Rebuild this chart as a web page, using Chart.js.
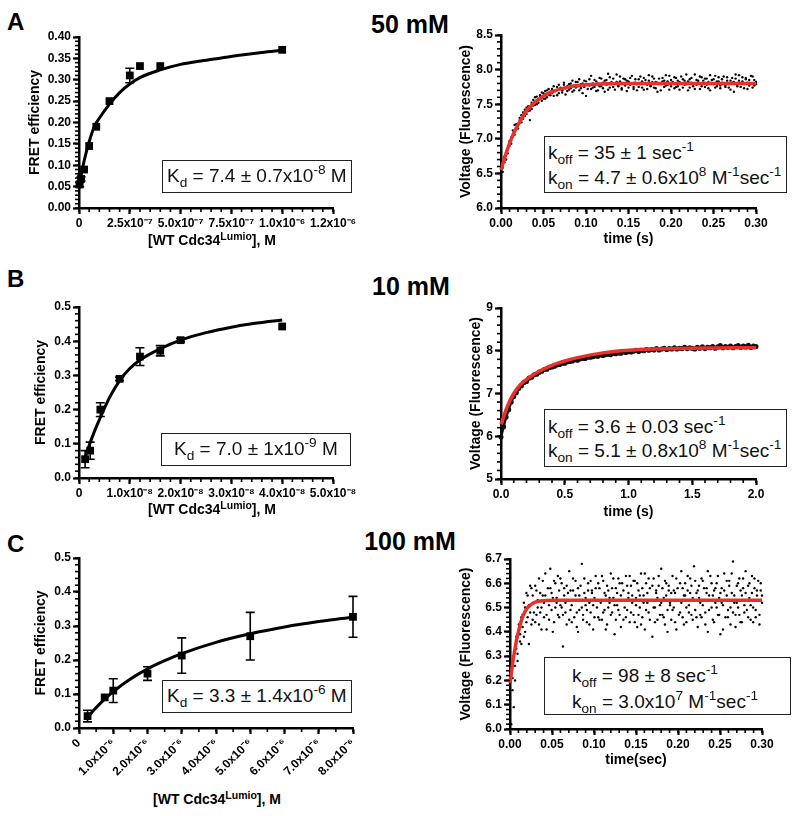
<!DOCTYPE html>
<html>
<head>
<meta charset="utf-8">
<script src="https://cdn.jsdelivr.net/npm/chart.js@4.4.1/dist/chart.umd.min.js"></script>
<style>
  html, body { margin: 0; padding: 0; background: #fff; }
  body { width: 800px; height: 816px; position: relative; overflow: hidden; font-family: 'Liberation Sans', Arial, sans-serif; color: #000; }
  canvas { position: absolute; }
  .lbl { position: absolute; font-weight: bold; white-space: nowrap; }
  .panel { font-size: 24px; line-height: 24px; }
  .cond { font-size: 25px; line-height: 25px; transform: translateX(-50%); }
  .xt { font-size: 14px; line-height: 14px; transform: translateX(-50%); }
  .xt sup { font-size: 75%; top: -0.5em; }
  .box { position: absolute; box-sizing: border-box; border: 1.5px solid #222; background: #fff; font-size: 19px; color: #111; white-space: nowrap; z-index: 5; }
  .box .ln { position: absolute; line-height: 19px; }
  sub, sup { font-size: 72%; line-height: 0; position: relative; vertical-align: baseline; }
  sub { top: 0.38em; }
  sup { top: -0.55em; }
</style>
</head>
<body>
<div class="lbl panel" style="left:7px;top:10px">A</div>
<div class="lbl cond" style="left:410px;top:12px">50 mM</div>
<div class="lbl panel" style="left:7px;top:267px">B</div>
<div class="lbl cond" style="left:411px;top:274px">10 mM</div>
<div class="lbl panel" style="left:7px;top:532px">C</div>
<div class="lbl cond" style="left:410px;top:529px">100 mM</div>

<canvas id="bindA"></canvas>
<canvas id="kinA"></canvas>
<canvas id="bindB"></canvas>
<canvas id="kinB"></canvas>
<canvas id="bindC"></canvas>
<canvas id="kinC"></canvas>

<div class="lbl xt" style="left:212px;top:233px">[WT Cdc34<sup>Lumio</sup>], M</div>
<div class="lbl xt" style="left:212px;top:502px">[WT Cdc34<sup>Lumio</sup>], M</div>
<div class="lbl xt" style="left:217px;top:792px">[WT Cdc34<sup>Lumio</sup>], M</div>

<div class="box" style="left:162px;top:160px;width:190px;height:33px">
  <div class="ln" style="left:4px;top:5px">K<sub>d</sub> = 7.4 ± 0.7x10<sup>-8</sup> M</div>
</div>
<div class="box" style="left:161px;top:433px;width:190px;height:33px">
  <div class="ln" style="left:12px;top:5px">K<sub>d</sub> = 7.0 ± 1x10<sup>-9</sup> M</div>
</div>
<div class="box" style="left:162px;top:680px;width:190px;height:33px">
  <div class="ln" style="left:4px;top:5px">K<sub>d</sub> = 3.3 ± 1.4x10<sup>-6</sup> M</div>
</div>
<div class="box" style="left:544px;top:136px;width:243px;height:57px">
  <div class="ln" style="left:3px;top:6px">k<sub>off</sub> = 35 ± 1 sec<sup>-1</sup></div>
  <div class="ln" style="left:3px;top:31px">k<sub>on</sub> = 4.7 ± 0.6x10<sup>8</sup> M<sup>-1</sup>sec<sup>-1</sup></div>
</div>
<div class="box" style="left:544px;top:409px;width:243px;height:58px">
  <div class="ln" style="left:3px;top:7px">k<sub>off</sub> = 3.6 ± 0.03 sec<sup>-1</sup></div>
  <div class="ln" style="left:3px;top:31px">k<sub>on</sub> = 5.1 ± 0.8x10<sup>8</sup> M<sup>-1</sup>sec<sup>-1</sup></div>
</div>
<div class="box" style="left:544px;top:657px;width:247px;height:58px">
  <div class="ln" style="left:27px;top:8px">k<sub>off</sub> = 98 ± 8 sec<sup>-1</sup></div>
  <div class="ln" style="left:27px;top:34px">k<sub>on</sub> = 3.0x10<sup>7</sup> M<sup>-1</sup>sec<sup>-1</sup></div>
</div>

<script>
const FONT = "'Liberation Sans', Arial, sans-serif";
const RED = '#e8312a';

// ---- A: 50 mM binding ----
const concA = [3e-9, 1e-8, 2.5e-8, 5e-8, 8.5e-8, 1.5e-7, 2.5e-7, 3e-7, 4e-7, 1e-6];
const fretA = [0.055, 0.068, 0.09, 0.145, 0.19, 0.25, 0.31, 0.332, 0.332, 0.37];
const errA = [0.005, 0.005, 0, 0, 0, 0, 0.017, 0, 0, 0];
const fitConcA = [0, 1e-8, 2.5e-8, 5e-8, 7.5e-8, 1e-7, 1.5e-7, 2e-7, 2.5e-7, 3e-7, 4e-7, 5e-7, 6e-7, 7e-7, 8e-7, 9e-7, 1e-6];
const fitFretA = [0.045, 0.075, 0.11, 0.155, 0.19, 0.21, 0.243, 0.27, 0.29, 0.305, 0.323, 0.336, 0.344, 0.351, 0.358, 0.364, 0.369];
const xTicksA = [0, 2.5e-7, 5e-7, 7.5e-7, 1e-6, 1.25e-6];
const xLabelsA = ['0', '2.5x10⁻⁷', '5.0x10⁻⁷', '7.5x10⁻⁷', '1.0x10⁻⁶', '1.2x10⁻⁶'];
const yTicksA = [0, 0.05, 0.1, 0.15, 0.2, 0.25, 0.3, 0.35, 0.4];
const yLabelsA = ['0.00', '0.05', '0.10', '0.15', '0.20', '0.25', '0.30', '0.35', '0.40'];

// ---- A: 50 mM stopped-flow (two sweeps on the same time base) ----
const timeA = [0,0.002,0.004,0.006,0.008,0.01,0.012,0.014,0.016,0.018,
  0.02,0.022,0.024,0.026,0.028,0.03,0.032,0.034,0.036,0.038,
  0.04,0.042,0.044,0.046,0.048,0.05,0.052,0.054,0.056,0.058,
  0.06,0.062,0.064,0.066,0.068,0.07,0.072,0.074,0.076,0.078,
  0.08,0.082,0.084,0.086,0.088,0.09,0.092,0.094,0.096,0.098,
  0.1,0.102,0.104,0.106,0.108,0.11,0.112,0.114,0.116,0.118,
  0.12,0.122,0.124,0.126,0.128,0.13,0.132,0.134,0.136,0.138,
  0.14,0.142,0.144,0.146,0.148,0.15,0.152,0.154,0.156,0.158,
  0.16,0.162,0.164,0.166,0.168,0.17,0.172,0.174,0.176,0.178,
  0.18,0.182,0.184,0.186,0.188,0.19,0.192,0.194,0.196,0.198,
  0.2,0.202,0.204,0.206,0.208,0.21,0.212,0.214,0.216,0.218,
  0.22,0.222,0.224,0.226,0.228,0.23,0.232,0.234,0.236,0.238,
  0.24,0.242,0.244,0.246,0.248,0.25,0.252,0.254,0.256,0.258,
  0.26,0.262,0.264,0.266,0.268,0.27,0.272,0.274,0.276,0.278,
  0.28,0.282,0.284,0.286,0.288,0.29,0.292,0.294,0.296,0.298,0.3];
const voltA = [6.38,6.52,6.66,6.70,6.86,6.90,7.02,7.05,7.20,7.14,
  7.22,7.30,7.24,7.38,7.33,7.45,7.40,7.27,7.52,7.48,
  7.60,7.50,7.57,7.63,7.55,7.66,7.58,7.70,7.64,7.68,
  7.72,7.62,7.69,7.75,7.66,7.74,7.70,7.78,7.64,7.76,
  7.71,7.80,7.68,7.77,7.74,7.82,7.70,7.79,7.66,7.84,
  7.62,7.78,7.86,7.72,7.80,7.75,7.83,7.70,7.88,7.76,
  7.81,7.68,7.85,7.94,7.74,7.79,7.87,7.71,7.82,7.77,
  7.90,7.73,7.80,7.86,7.69,7.83,7.78,7.91,7.75,7.81,
  7.70,7.86,7.79,7.74,7.88,7.80,7.72,7.84,7.77,7.90,
  7.74,7.82,7.68,7.87,7.79,7.83,7.75,7.92,7.78,7.71,
  7.85,7.80,7.73,7.88,7.76,7.82,7.90,7.74,7.84,7.79,
  7.70,7.86,7.81,7.76,7.93,7.78,7.84,7.72,7.89,7.80,
  7.75,7.87,7.82,7.70,7.85,7.79,7.91,7.76,7.83,7.73,
  7.86,7.80,7.77,7.89,7.74,7.84,7.81,7.68,7.87,7.78,
  7.92,7.75,7.83,7.79,7.88,7.72,7.85,7.80,7.90,7.77,7.82];
const voltA2 = [6.47,6.58,6.74,6.81,6.79,6.97,6.93,7.12,7.06,7.21,
  7.15,7.27,7.34,7.29,7.42,7.36,7.47,7.41,7.43,7.56,
  7.49,7.61,7.52,7.62,7.67,7.58,7.69,7.60,7.72,7.63,
  7.66,7.76,7.70,7.63,7.78,7.72,7.67,7.81,7.73,7.69,
  7.79,7.73,7.84,7.70,7.82,7.76,7.86,7.73,7.80,7.75,
  7.83,7.72,7.77,7.91,7.74,7.85,7.69,7.80,7.76,7.87,
  7.73,7.84,7.78,7.71,7.89,7.82,7.75,7.80,7.93,7.76,
  7.83,7.71,7.87,7.77,7.84,7.74,7.88,7.80,7.72,7.86,
  7.79,7.75,7.90,7.83,7.71,7.85,7.78,7.92,7.76,7.82,
  7.87,7.73,7.81,7.79,7.70,7.88,7.84,7.77,7.83,7.91,
  7.76,7.82,7.89,7.75,7.84,7.71,7.80,7.86,7.78,7.93,
  7.83,7.74,7.88,7.79,7.72,7.85,7.81,7.90,7.76,7.84,
  7.87,7.78,7.73,7.92,7.80,7.86,7.74,7.83,7.89,7.77,
  7.81,7.90,7.75,7.84,7.79,7.71,7.88,7.82,7.93,7.76,
  7.84,7.80,7.89,7.73,7.86,7.81,7.77,7.91,7.74,7.85,7.79];
const fitTimeA = [0, 0.005, 0.01, 0.015, 0.02, 0.03, 0.04, 0.05, 0.06, 0.08, 0.1, 0.15, 0.2, 0.25, 0.3];
const fitVoltA = [6.55, 6.75, 6.93, 7.08, 7.2, 7.4, 7.53, 7.62, 7.68, 7.75, 7.78, 7.8, 7.8, 7.8, 7.8];
const tTicksA = [0, 0.05, 0.1, 0.15, 0.2, 0.25, 0.3];
const tLabelsA = ['0.00', '0.05', '0.10', '0.15', '0.20', '0.25', '0.30'];
const vTicksA = [6, 6.5, 7, 7.5, 8, 8.5];
const vLabelsA = ['6.0', '6.5', '7.0', '7.5', '8.0', '8.5'];

// ---- B: 10 mM binding ----
const concB = [1.2e-9, 2.2e-9, 4.2e-9, 8e-9, 1.2e-8, 1.6e-8, 2e-8, 4e-8];
const fretB = [0.055, 0.08, 0.2, 0.29, 0.355, 0.372, 0.403, 0.443];
const errB = [0.025, 0.025, 0.02, 0.005, 0.026, 0.015, 0.005, 0];
const fitConcB = [1e-9, 2e-9, 3e-9, 4e-9, 6e-9, 8e-9, 1e-8, 1.2e-8, 1.6e-8, 2e-8, 2.5e-8, 3e-8, 3.5e-8, 4e-8];
const fitFretB = [0.05, 0.095, 0.135, 0.17, 0.235, 0.285, 0.32, 0.345, 0.378, 0.403, 0.425, 0.441, 0.453, 0.462];
const xTicksB = [0, 1e-8, 2e-8, 3e-8, 4e-8, 5e-8];
const xLabelsB = ['0', '1.0x10⁻⁸', '2.0x10⁻⁸', '3.0x10⁻⁸', '4.0x10⁻⁸', '5.0x10⁻⁸'];
const yTicksB = [0, 0.1, 0.2, 0.3, 0.4, 0.5];
const yLabelsB = ['0.0', '0.1', '0.2', '0.3', '0.4', '0.5'];

// ---- B: 10 mM stopped-flow ----
const timeB = [0,0.02,0.04,0.06,0.08,0.1,0.12,0.14,0.16,0.18,
  0.2,0.22,0.24,0.26,0.28,0.3,0.32,0.34,0.36,0.38,
  0.4,0.42,0.44,0.46,0.48,0.5,0.52,0.54,0.56,0.58,
  0.6,0.62,0.64,0.66,0.68,0.7,0.72,0.74,0.76,0.78,
  0.8,0.82,0.84,0.86,0.88,0.9,0.92,0.94,0.96,0.98,
  1,1.02,1.04,1.06,1.08,1.1,1.12,1.14,1.16,1.18,
  1.2,1.22,1.24,1.26,1.28,1.3,1.32,1.34,1.36,1.38,
  1.4,1.42,1.44,1.46,1.48,1.5,1.52,1.54,1.56,1.58,
  1.6,1.62,1.64,1.66,1.68,1.7,1.72,1.74,1.76,1.78,
  1.8,1.82,1.84,1.86,1.88,1.9,1.92,1.94,1.96,1.98,2];
const voltB = [5.98,6.22,6.45,6.62,6.80,6.93,7.02,7.12,7.18,7.26,
  7.28,7.36,7.38,7.44,7.45,7.50,7.52,7.56,7.57,7.61,
  7.62,7.64,7.67,7.68,7.71,7.71,7.74,7.75,7.76,7.79,
  7.78,7.81,7.82,7.82,7.85,7.85,7.86,7.88,7.87,7.90,
  7.89,7.91,7.92,7.91,7.94,7.93,7.95,7.94,7.97,7.96,
  7.98,7.97,7.99,8.01,7.98,8.01,8.00,8.03,8.01,8.03,
  8.02,8.05,8.02,8.04,8.06,8.03,8.05,8.04,8.07,8.04,
  8.06,8.05,8.08,8.05,8.07,8.06,8.04,8.08,8.06,8.09,
  8.05,8.08,8.07,8.10,8.06,8.09,8.12,8.07,8.10,8.08,
  8.11,8.07,8.10,8.12,8.08,8.11,8.09,8.13,8.08,8.11,8.10];
const fitTimeB = [0, 0.05, 0.1, 0.15, 0.2, 0.3, 0.4, 0.5, 0.6, 0.8, 1.0, 1.2, 1.5, 2.0];
const fitVoltB = [6.28, 6.7, 7.0, 7.2, 7.33, 7.52, 7.66, 7.76, 7.84, 7.95, 8.01, 8.04, 8.06, 8.07];
const tTicksB = [0, 0.5, 1, 1.5, 2];
const tLabelsB = ['0.0', '0.5', '1.0', '1.5', '2.0'];
const vTicksB = [5, 6, 7, 8, 9];
const vLabelsB = ['5', '6', '7', '8', '9'];

// ---- C: 100 mM binding ----
const concC = [0.25e-6, 0.75e-6, 1e-6, 2e-6, 3e-6, 5e-6, 8e-6];
const fretC = [0.035, 0.09, 0.11, 0.16, 0.213, 0.27, 0.327];
const errC = [0.017, 0, 0.035, 0.02, 0.052, 0.07, 0.06];
const fitConcC = [0.2e-6, 0.5e-6, 0.75e-6, 1e-6, 1.5e-6, 2e-6, 2.5e-6, 3e-6, 4e-6, 5e-6, 6e-6, 7e-6, 8e-6];
const fitFretC = [0.026, 0.06, 0.085, 0.107, 0.144, 0.174, 0.198, 0.219, 0.252, 0.277, 0.297, 0.313, 0.326];
const xTicksC = [0, 1e-6, 2e-6, 3e-6, 4e-6, 5e-6, 6e-6, 7e-6, 8e-6];
const xLabelsC = ['0', '1.0x10⁻⁶', '2.0x10⁻⁶', '3.0x10⁻⁶', '4.0x10⁻⁶', '5.0x10⁻⁶', '6.0x10⁻⁶', '7.0x10⁻⁶', '8.0x10⁻⁶'];
const yTicksC = [0, 0.1, 0.2, 0.3, 0.4, 0.5];
const yLabelsC = ['0.0', '0.1', '0.2', '0.3', '0.4', '0.5'];

// ---- C: 100 mM stopped-flow (two sweeps on the same time base) ----
const timeC = [0,0.0015,0.003,0.0045,0.006,0.0075,0.009,0.0105,0.012,0.0135,
  0.015,0.0165,0.018,0.0195,0.021,0.0225,0.024,0.0255,0.027,0.0285,
  0.03,0.0315,0.033,0.0345,0.036,0.0375,0.039,0.0405,0.042,0.0435,
  0.045,0.0465,0.048,0.0495,0.051,0.0525,0.054,0.0555,0.057,0.0585,
  0.06,0.0615,0.063,0.0645,0.066,0.0675,0.069,0.0705,0.072,0.0735,
  0.075,0.0765,0.078,0.0795,0.081,0.0825,0.084,0.0855,0.087,0.0885,
  0.09,0.0915,0.093,0.0945,0.096,0.0975,0.099,0.1005,0.102,0.1035,
  0.105,0.1065,0.108,0.1095,0.111,0.1125,0.114,0.1155,0.117,0.1185,
  0.12,0.1215,0.123,0.1245,0.126,0.1275,0.129,0.1305,0.132,0.1335,
  0.135,0.1365,0.138,0.1395,0.141,0.1425,0.144,0.1455,0.147,0.1485,
  0.15,0.1515,0.153,0.1545,0.156,0.1575,0.159,0.1605,0.162,0.1635,
  0.165,0.1665,0.168,0.1695,0.171,0.1725,0.174,0.1755,0.177,0.1785,
  0.18,0.1815,0.183,0.1845,0.186,0.1875,0.189,0.1905,0.192,0.1935,
  0.195,0.1965,0.198,0.1995,0.201,0.2025,0.204,0.2055,0.207,0.2085,
  0.21,0.2115,0.213,0.2145,0.216,0.2175,0.219,0.2205,0.222,0.2235,
  0.225,0.2265,0.228,0.2295,0.231,0.2325,0.234,0.2355,0.237,0.2385,
  0.24,0.2415,0.243,0.2445,0.246,0.2475,0.249,0.2505,0.252,0.2535,
  0.255,0.2565,0.258,0.2595,0.261,0.2625,0.264,0.2655,0.267,0.2685,
  0.27,0.2715,0.273,0.2745,0.276,0.2775,0.279,0.2805,0.282,0.2835,
  0.285,0.2865,0.288,0.2895,0.291,0.2925,0.294,0.2955,0.297,0.2985,0.3];
const voltC = [6.19,6.02,6.16,6.09,6.20,6.33,6.28,6.40,6.36,6.46,
  6.42,6.38,6.50,6.44,6.55,6.35,6.48,6.58,6.45,6.52,
  6.59,6.47,6.53,6.43,6.56,6.50,6.61,6.46,6.55,6.41,
  6.58,6.51,6.66,6.49,6.54,6.44,6.60,6.52,6.47,6.57,
  6.62,6.50,6.34,6.55,6.48,6.59,6.53,6.45,6.57,6.51,
  6.62,6.46,6.55,6.42,6.58,6.49,6.53,6.68,6.47,6.56,
  6.51,6.44,6.60,6.52,6.48,6.57,6.41,6.54,6.63,6.50,
  6.46,6.58,6.53,6.45,6.61,6.49,6.55,6.43,6.57,6.52,
  6.64,6.48,6.54,6.39,6.58,6.51,6.62,6.47,6.55,6.60,
  6.45,6.53,6.63,6.49,6.56,6.44,6.59,6.52,6.47,6.61,
  6.54,6.42,6.57,6.50,6.64,6.46,6.55,6.41,6.60,6.52,
  6.48,6.58,6.53,6.38,6.62,6.50,6.56,6.45,6.59,6.51,
  6.66,6.47,6.54,6.43,6.60,6.49,6.57,6.52,6.45,6.63,
  6.50,6.56,6.41,6.58,6.53,6.48,6.65,6.46,6.55,6.60,
  6.44,6.57,6.51,6.62,6.47,6.54,6.67,6.49,6.56,6.42,
  6.59,6.52,6.46,6.61,6.53,6.48,6.58,6.40,6.55,6.63,
  6.50,6.45,6.57,6.52,6.60,6.47,6.54,6.39,6.58,6.51,
  6.64,6.46,6.55,6.49,6.61,6.43,6.56,6.69,6.52,6.47,
  6.59,6.50,6.62,6.44,6.55,6.58,6.48,6.65,6.53,6.46,
  6.60,6.51,6.56,6.44,6.62,6.49,6.57,6.53,6.47,6.60,6.55];
const voltC2 = [6.12,6.24,6.21,6.30,6.26,6.38,6.31,6.43,6.39,6.35,
  6.47,6.52,6.40,6.56,6.46,6.51,6.59,6.43,6.55,6.48,
  6.44,6.57,6.50,6.62,6.48,6.41,6.55,6.52,6.64,6.47,
  6.53,6.45,6.58,6.56,6.40,6.61,6.50,6.54,6.63,6.46,
  6.51,6.60,6.47,6.58,6.52,6.43,6.56,6.65,6.49,6.44,
  6.57,6.53,6.61,6.48,6.40,6.55,6.59,6.50,6.45,6.62,
  6.54,6.49,6.57,6.43,6.61,6.56,6.51,6.46,6.58,6.53,
  6.60,6.45,6.52,6.63,6.48,6.56,6.41,6.59,6.50,6.54,
  6.47,6.58,6.62,6.51,6.45,6.56,6.49,6.60,6.42,6.53,
  6.57,6.50,6.46,6.59,6.54,6.63,6.48,6.55,6.61,6.44,
  6.51,6.60,6.47,6.55,6.43,6.58,6.52,6.64,6.49,6.56,
  6.62,6.45,6.53,6.59,6.50,6.44,6.57,6.54,6.63,6.47,
  6.52,6.58,6.46,6.61,6.55,6.40,6.59,6.51,6.56,6.49,
  6.57,6.44,6.62,6.53,6.47,6.60,6.52,6.58,6.43,6.55,
  6.50,6.63,6.48,6.56,6.59,6.45,6.53,6.61,6.46,6.57,
  6.54,6.47,6.62,6.51,6.58,6.43,6.56,6.65,6.49,6.53,
  6.60,6.55,6.44,6.58,6.50,6.63,6.47,6.56,6.52,6.41,
  6.57,6.53,6.61,6.46,6.59,6.50,6.64,6.48,6.55,6.42,
  6.52,6.60,6.47,6.57,6.44,6.62,6.51,6.56,6.49,6.59,
  6.54,6.45,6.63,6.50,6.58,6.46,6.55,6.61,6.43,6.57,6.52];
const fitTimeC = [0, 0.002, 0.004, 0.006, 0.008, 0.01, 0.013, 0.016, 0.02, 0.025, 0.03, 0.04, 0.06, 0.1, 0.2, 0.3];
const fitVoltC = [6.19, 6.24, 6.29, 6.33, 6.37, 6.40, 6.44, 6.47, 6.495, 6.512, 6.522, 6.528, 6.53, 6.53, 6.53, 6.53];
const tTicksC = [0, 0.05, 0.1, 0.15, 0.2, 0.25, 0.3];
const tLabelsC = ['0.00', '0.05', '0.10', '0.15', '0.20', '0.25', '0.30'];
const vTicksC = [6.0, 6.1, 6.2, 6.3, 6.4, 6.5, 6.6, 6.7];
const vLabelsC = ['6.0', '6.1', '6.2', '6.3', '6.4', '6.5', '6.6', '6.7'];

const pts = (xs, ys) => xs.map((x, i) => ({x: x, y: ys[i]}));

// short ticks between the labelled ones
const minorTicks = {
    id: 'minorTicks',
    afterDraw(chart, args, opts) {
        const ctx = chart.ctx;
        ctx.save();
        ctx.strokeStyle = '#000';
        ctx.lineWidth = 1.6;
        ['x', 'y'].forEach(k => {
            const step = opts[k];
            if (!step) return;
            const s = chart.scales[k];
            const n = Math.round((s.max - s.min) / step);
            for (let i = 0; i <= n; i++) {
                const p = s.getPixelForValue(s.min + i * step);
                ctx.beginPath();
                if (k === 'x') { ctx.moveTo(p, s.top); ctx.lineTo(p, s.top + 4); }
                else { ctx.moveTo(s.right, p); ctx.lineTo(s.right - 4, p); }
                ctx.stroke();
            }
        });
        ctx.restore();
    }
};

const errorBars = {
    id: 'errorBars',
    beforeDatasetsDraw(chart) {
        const ctx = chart.ctx;
        const {x, y} = chart.scales;
        ctx.save();
        ctx.strokeStyle = '#000';
        ctx.lineWidth = 1.6;
        chart.data.datasets.forEach(ds => {
            if (!ds.errors) return;
            ds.data.forEach((p, i) => {
                const e = ds.errors[i];
                if (!e) return;
                const px = x.getPixelForValue(p.x);
                const y1 = y.getPixelForValue(p.y + e);
                const y2 = y.getPixelForValue(p.y - e);
                ctx.beginPath();
                ctx.moveTo(px, y1); ctx.lineTo(px, y2);
                ctx.moveTo(px - 4.5, y1); ctx.lineTo(px + 4.5, y1);
                ctx.moveTo(px - 4.5, y2); ctx.lineTo(px + 4.5, y2);
                ctx.stroke();
            });
        });
        ctx.restore();
    }
};

function scaleOpts(o) {
    return {
        type: 'linear',
        min: o.ticks[0],
        max: o.ticks[o.ticks.length - 1],
        border: {color: '#000', width: 2.5},
        grid: {drawOnChartArea: false, color: '#000', tickLength: 6, tickWidth: 2.2},
        afterBuildTicks: s => { s.ticks = o.ticks.map(v => ({value: v})); },
        afterFit: s => { if (s.isHorizontal()) s.height = o.size; else s.width = o.size; },
        ticks: {
            autoSkip: false,
            color: '#000',
            padding: 2,
            font: {family: FONT, size: 12, weight: 'bold'},
            maxRotation: o.rot || 0,
            minRotation: o.rot || 0,
            callback: (v, i) => o.labels[i]
        },
        title: o.title
            ? {display: true, text: o.title, color: '#000', font: {family: FONT, size: 14, weight: 'bold'}, padding: o.titlePad}
            : {display: false}
    };
}

// rect = [left, top, right, bottom] of the plot area on the page
function makeChart(id, rect, yW, xH, padRight, datasets, xo, yo, minor) {
    const cv = document.getElementById(id);
    const left = rect[0] - yW, top = rect[1] - 15;
    const width = rect[2] + padRight - left, height = rect[3] + xH - top;
    cv.style.left = left + 'px';
    cv.style.top = top + 'px';
    cv.width = width; cv.height = height;
    cv.style.width = width + 'px'; cv.style.height = height + 'px';
    return new Chart(cv, {
        type: 'scatter',
        data: {datasets: datasets},
        options: {
            responsive: false,
            animation: false,
            devicePixelRatio: 1,
            layout: {padding: {left: 0, top: 15, right: padRight, bottom: 0}},
            plugins: {legend: {display: false}, tooltip: {enabled: false}, minorTicks: minor},
            scales: {
                x: scaleOpts(Object.assign({size: xH}, xo)),
                y: scaleOpts(Object.assign({size: yW}, yo))
            }
        },
        plugins: [minorTicks, errorBars]
    });
}

function bindingSets(cx, fy, err, fx, ffy) {
    return [
        {data: pts(cx, fy), errors: err, pointStyle: 'rect', pointRadius: 5.5, backgroundColor: '#000', borderColor: '#000', borderWidth: 0, clip: false, order: 0},
        {data: pts(fx, ffy), showLine: true, pointRadius: 0, borderColor: '#000', borderWidth: 3, cubicInterpolationMode: 'monotone', clip: false, order: 1}
    ];
}

function fitSet(ftx, fvy) {
    return {data: pts(ftx, fvy), showLine: true, pointRadius: 0, borderColor: RED, borderWidth: 3.5, cubicInterpolationMode: 'monotone', clip: false, order: 0};
}

function dotSet(tx, vy, r) {
    return {data: pts(tx, vy), pointRadius: r, backgroundColor: '#000', borderWidth: 0, clip: false, order: 1};
}

makeChart('bindA', [79, 37, 333, 208], 79, 32, 40,
    bindingSets(concA, fretA, errA, fitConcA, fitFretA),
    {ticks: xTicksA, labels: xLabelsA},
    {ticks: yTicksA, labels: yLabelsA, title: 'FRET efficiency', titlePad: {top: 27, bottom: 0}},
    {x: 5e-8, y: 0.01});

makeChart('kinA', [501, 35, 756, 208], 60, 40, 30,
    [fitSet(fitTimeA, fitVoltA), dotSet(timeA, voltA, 1.2), dotSet(timeA, voltA2, 1.2)],
    {ticks: tTicksA, labels: tLabelsA, title: 'time (s)', titlePad: {top: 0, bottom: 0}},
    {ticks: vTicksA, labels: vLabelsA, title: 'Voltage (Fluorescence)', titlePad: {top: 17, bottom: 0}},
    {x: 0.01, y: 0.1});

makeChart('bindB', [79, 307, 333, 478], 79, 32, 40,
    bindingSets(concB, fretB, errB, fitConcB, fitFretB),
    {ticks: xTicksB, labels: xLabelsB},
    {ticks: yTicksB, labels: yLabelsB, title: 'FRET efficiency', titlePad: {top: 33, bottom: 0}},
    {x: 2e-9, y: 0.02});

makeChart('kinB', [501, 308, 756, 479], 60, 42, 30,
    [fitSet(fitTimeB, fitVoltB),
     Object.assign(dotSet(timeB, voltB, 1.3), {showLine: true, borderColor: '#111', borderWidth: 2.5})],
    {ticks: tTicksB, labels: tLabelsB, title: 'time (s)', titlePad: {top: 0, bottom: 0}},
    {ticks: vTicksB, labels: vLabelsB, title: 'Voltage (Fluorescence)', titlePad: {top: 27, bottom: 0}},
    {x: 0.1, y: 0.2});

makeChart('bindC', [79, 558, 353, 728], 79, 60, 30,
    bindingSets(concC, fretC, errC, fitConcC, fitFretC),
    {ticks: xTicksC, labels: xLabelsC, rot: 45},
    {ticks: yTicksC, labels: yLabelsC, title: 'FRET efficiency', titlePad: {top: 33, bottom: 0}},
    {x: 5e-7, y: 0.02});

makeChart('kinC', [510, 559, 762, 729], 60, 40, 30,
    [fitSet(fitTimeC, fitVoltC), dotSet(timeC, voltC, 1.2), dotSet(timeC, voltC2, 1.2)],
    {ticks: tTicksC, labels: tLabelsC, title: 'time(sec)', titlePad: {top: 0, bottom: 0}},
    {ticks: vTicksC, labels: vLabelsC, title: 'Voltage (Fluorescence)', titlePad: {top: 8, bottom: 0}},
    {x: 0.01, y: 0.02});
</script>
</body>
</html>
